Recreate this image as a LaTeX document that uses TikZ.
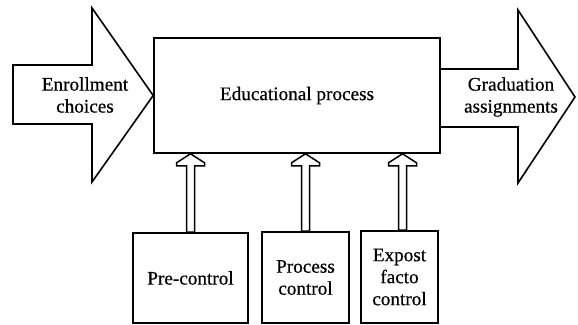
\documentclass[tikz,border=0pt]{standalone}
\usepackage{fontspec}
\setmainfont{Liberation Serif}
\newfontfamily\diagfont[FakeBold=0.5]{Liberation Serif}
\usetikzlibrary{calc}
\newcommand\hollowup[3]{%
  \draw[hollow] ($(#1.north |- #2.south)+(#3,0)$) -- ++(14,9) -- ++(0,3) -- ++(-10,0)
    -- ($(#1.north)+(#3+4,0)$) -- ($(#1.north)+(#3-4,0)$)
    -- ($(#1.north |- #2.south)+(#3-4,12)$) -- ++(-10,0) -- ++(0,-3) -- cycle;}
\begin{document}
\begin{tikzpicture}[x=1pt,y=-1pt,
  every node/.style={font=\diagfont\fontsize{19.2}{22}\selectfont, align=center, inner sep=0pt},
  boxst/.style={draw, line width=1.6pt},
  bigarrow/.style={draw, line width=1.6pt, line join=miter},
  hollow/.style={draw, line width=1.5pt, fill=white}]
\useasboundingbox (0,0) rectangle (578,324);
% main box
\node[boxst, minimum width=286pt, minimum height=115pt] (main) at (297,95.5) {Educational process};
% bottom boxes
\node[boxst, minimum width=115pt, minimum height=90pt] (pre) at (190.5,278) {Pre-control};
\node[boxst, minimum width=87pt, minimum height=91pt] (proc) at (305.5,277.5) {Process\\control};
\node[boxst, minimum width=77pt, minimum height=92pt] (expost) at (399.5,277) {Expost\\facto\\control};
% left big arrow
\draw[bigarrow] (13,65) -- (92,65) -- (92,8) -- (main.west) -- (92,182) -- (92,124) -- (13,124) -- cycle;
\node (enroll) at (85,95) {Enrollment\\choices};
% right big arrow
\draw[bigarrow] (main.east |- 0,69) -- (518,69) -- (518,10) -- (575,97) -- (518,183) -- (518,127) -- (main.east |- 0,127);
\node (grad) at (511,97) {Graduation\\assignments};
% hollow arrows
\hollowup{pre}{main}{0}
\hollowup{proc}{main}{0}
\hollowup{expost}{main}{3}
\end{tikzpicture}
\end{document}
